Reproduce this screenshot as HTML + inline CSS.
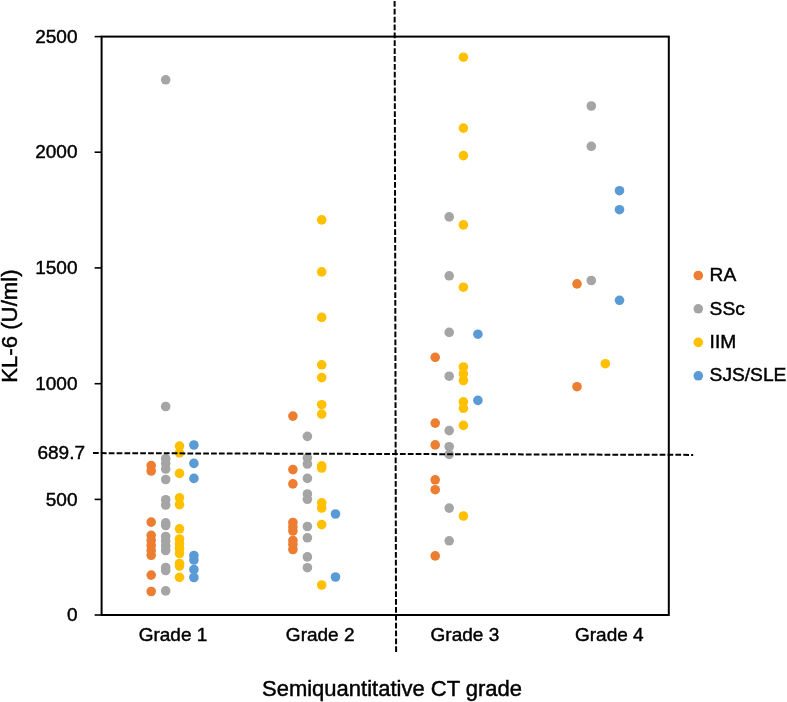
<!DOCTYPE html>
<html><head><meta charset="utf-8"><style>
html,body{margin:0;padding:0;background:#fff;width:787px;height:702px;overflow:hidden}
svg{display:block;will-change:transform}
text{font-family:"Liberation Sans",sans-serif;fill:#000;stroke:#000;stroke-width:0.45px}
</style></head><body>
<svg width="787" height="702" viewBox="0 0 787 702">
<rect x="0" y="0" width="787" height="702" fill="#fff"/>
<!-- frame -->
<rect x="101.6" y="36.6" width="567.2" height="578.4" fill="none" stroke="#000" stroke-width="2"/>
<!-- y ticks -->
<g stroke="#000" stroke-width="1.6">
<line x1="94.6" y1="36.6" x2="101.6" y2="36.6"/>
<line x1="94.6" y1="152.2" x2="101.6" y2="152.2"/>
<line x1="94.6" y1="267.9" x2="101.6" y2="267.9"/>
<line x1="94.6" y1="383.7" x2="101.6" y2="383.7"/>
<line x1="94.6" y1="499.4" x2="101.6" y2="499.4"/>
<line x1="94.6" y1="615" x2="101.6" y2="615"/>
</g>
<!-- y labels -->
<g font-size="19" text-anchor="end">
<text x="77.5" y="42.8">2500</text>
<text x="77.5" y="158.3">2000</text>
<text x="77.5" y="274">1500</text>
<text x="77.5" y="389.8">1000</text>
<text x="77.5" y="505.5">500</text>
<text x="77.5" y="621.1">0</text>
<text x="85" y="459">689.7</text>
</g>
<!-- x labels -->
<g font-size="19" text-anchor="middle">
<text x="173" y="640.6">Grade 1</text>
<text x="320.2" y="640.6">Grade 2</text>
<text x="464.9" y="640.6">Grade 3</text>
<text x="609.3" y="640.6">Grade 4</text>
</g>
<!-- axis titles -->
<text x="262" y="695.6" font-size="22">Semiquantitative CT grade</text>
<text transform="translate(16.8,382.8) rotate(-90)" font-size="22.2">KL-6 (U/ml)</text>
<!-- legend -->
<g font-size="19.2">
<circle cx="698.3" cy="275.5" r="4.8" fill="#ED7D31"/>
<circle cx="698.3" cy="308.8" r="4.8" fill="#A5A5A5"/>
<circle cx="698.3" cy="342.4" r="4.8" fill="#FFC000"/>
<circle cx="698.3" cy="375.8" r="4.8" fill="#5B9BD5"/>
<text x="709.6" y="281.3">RA</text>
<text x="709.6" y="314.8">SSc</text>
<text x="709.6" y="348.3">IIM</text>
<text x="709.6" y="381.3">SJS/SLE</text>
</g>
<!-- DOTS -->
<g id="dots">
<circle cx="151.2" cy="465.6" r="4.8" fill="#ED7D31"/>
<circle cx="151.2" cy="471.0" r="4.8" fill="#ED7D31"/>
<circle cx="151.2" cy="522.1" r="4.8" fill="#ED7D31"/>
<circle cx="151.2" cy="535.3" r="4.8" fill="#ED7D31"/>
<circle cx="151.2" cy="540.5" r="4.8" fill="#ED7D31"/>
<circle cx="151.2" cy="545.5" r="4.8" fill="#ED7D31"/>
<circle cx="151.2" cy="550.5" r="4.8" fill="#ED7D31"/>
<circle cx="151.2" cy="555.3" r="4.8" fill="#ED7D31"/>
<circle cx="151.2" cy="575.1" r="4.8" fill="#ED7D31"/>
<circle cx="151.2" cy="591.5" r="4.8" fill="#ED7D31"/>
<circle cx="165.7" cy="79.8" r="4.8" fill="#A5A5A5"/>
<circle cx="165.7" cy="406.5" r="4.8" fill="#A5A5A5"/>
<circle cx="165.7" cy="458.7" r="4.8" fill="#A5A5A5"/>
<circle cx="165.7" cy="463.5" r="4.8" fill="#A5A5A5"/>
<circle cx="165.7" cy="469.0" r="4.8" fill="#A5A5A5"/>
<circle cx="165.7" cy="479.5" r="4.8" fill="#A5A5A5"/>
<circle cx="165.7" cy="499.7" r="4.8" fill="#A5A5A5"/>
<circle cx="165.7" cy="505.0" r="4.8" fill="#A5A5A5"/>
<circle cx="165.7" cy="522.8" r="4.8" fill="#A5A5A5"/>
<circle cx="165.7" cy="525.5" r="4.8" fill="#A5A5A5"/>
<circle cx="165.7" cy="536.5" r="4.8" fill="#A5A5A5"/>
<circle cx="165.7" cy="541.0" r="4.8" fill="#A5A5A5"/>
<circle cx="165.7" cy="546.0" r="4.8" fill="#A5A5A5"/>
<circle cx="165.7" cy="550.5" r="4.8" fill="#A5A5A5"/>
<circle cx="165.7" cy="567.5" r="4.8" fill="#A5A5A5"/>
<circle cx="165.7" cy="570.5" r="4.8" fill="#A5A5A5"/>
<circle cx="165.7" cy="590.9" r="4.8" fill="#A5A5A5"/>
<circle cx="179.5" cy="446.1" r="4.8" fill="#FFC000"/>
<circle cx="179.5" cy="452.9" r="4.8" fill="#FFC000"/>
<circle cx="179.5" cy="473.4" r="4.8" fill="#FFC000"/>
<circle cx="179.5" cy="497.8" r="4.8" fill="#FFC000"/>
<circle cx="179.5" cy="504.6" r="4.8" fill="#FFC000"/>
<circle cx="179.5" cy="528.8" r="4.8" fill="#FFC000"/>
<circle cx="179.5" cy="539.0" r="4.8" fill="#FFC000"/>
<circle cx="179.5" cy="544.0" r="4.8" fill="#FFC000"/>
<circle cx="179.5" cy="548.5" r="4.8" fill="#FFC000"/>
<circle cx="179.5" cy="553.5" r="4.8" fill="#FFC000"/>
<circle cx="179.5" cy="563.5" r="4.8" fill="#FFC000"/>
<circle cx="179.5" cy="566.0" r="4.8" fill="#FFC000"/>
<circle cx="179.5" cy="577.3" r="4.8" fill="#FFC000"/>
<circle cx="193.9" cy="445.0" r="4.8" fill="#5B9BD5"/>
<circle cx="193.9" cy="463.4" r="4.8" fill="#5B9BD5"/>
<circle cx="193.9" cy="478.4" r="4.8" fill="#5B9BD5"/>
<circle cx="193.9" cy="555.5" r="4.8" fill="#5B9BD5"/>
<circle cx="193.9" cy="560.0" r="4.8" fill="#5B9BD5"/>
<circle cx="193.9" cy="569.5" r="4.8" fill="#5B9BD5"/>
<circle cx="193.9" cy="577.5" r="4.8" fill="#5B9BD5"/>
<circle cx="292.9" cy="416.1" r="4.8" fill="#ED7D31"/>
<circle cx="292.9" cy="469.6" r="4.8" fill="#ED7D31"/>
<circle cx="292.9" cy="483.9" r="4.8" fill="#ED7D31"/>
<circle cx="292.9" cy="522.5" r="4.8" fill="#ED7D31"/>
<circle cx="292.9" cy="527.0" r="4.8" fill="#ED7D31"/>
<circle cx="292.9" cy="531.0" r="4.8" fill="#ED7D31"/>
<circle cx="292.9" cy="540.5" r="4.8" fill="#ED7D31"/>
<circle cx="292.9" cy="544.5" r="4.8" fill="#ED7D31"/>
<circle cx="292.9" cy="549.5" r="4.8" fill="#ED7D31"/>
<circle cx="307.4" cy="436.4" r="4.8" fill="#A5A5A5"/>
<circle cx="307.4" cy="457.8" r="4.8" fill="#A5A5A5"/>
<circle cx="307.4" cy="464.0" r="4.8" fill="#A5A5A5"/>
<circle cx="307.4" cy="478.4" r="4.8" fill="#A5A5A5"/>
<circle cx="307.4" cy="494.0" r="4.8" fill="#A5A5A5"/>
<circle cx="307.4" cy="499.3" r="4.8" fill="#A5A5A5"/>
<circle cx="307.4" cy="526.5" r="4.8" fill="#A5A5A5"/>
<circle cx="307.4" cy="537.8" r="4.8" fill="#A5A5A5"/>
<circle cx="307.4" cy="556.9" r="4.8" fill="#A5A5A5"/>
<circle cx="307.4" cy="567.7" r="4.8" fill="#A5A5A5"/>
<circle cx="321.7" cy="219.9" r="4.8" fill="#FFC000"/>
<circle cx="321.7" cy="271.9" r="4.8" fill="#FFC000"/>
<circle cx="321.7" cy="317.4" r="4.8" fill="#FFC000"/>
<circle cx="321.7" cy="364.8" r="4.8" fill="#FFC000"/>
<circle cx="321.7" cy="377.6" r="4.8" fill="#FFC000"/>
<circle cx="321.7" cy="404.7" r="4.8" fill="#FFC000"/>
<circle cx="321.7" cy="414.1" r="4.8" fill="#FFC000"/>
<circle cx="321.7" cy="465.8" r="4.8" fill="#FFC000"/>
<circle cx="321.7" cy="468.0" r="4.8" fill="#FFC000"/>
<circle cx="321.7" cy="502.8" r="4.8" fill="#FFC000"/>
<circle cx="321.7" cy="508.0" r="4.8" fill="#FFC000"/>
<circle cx="321.7" cy="524.6" r="4.8" fill="#FFC000"/>
<circle cx="321.7" cy="585.0" r="4.8" fill="#FFC000"/>
<circle cx="335.5" cy="514.0" r="4.8" fill="#5B9BD5"/>
<circle cx="335.5" cy="577.0" r="4.8" fill="#5B9BD5"/>
<circle cx="435.2" cy="357.3" r="4.8" fill="#ED7D31"/>
<circle cx="435.2" cy="423.1" r="4.8" fill="#ED7D31"/>
<circle cx="435.2" cy="444.9" r="4.8" fill="#ED7D31"/>
<circle cx="435.2" cy="479.8" r="4.8" fill="#ED7D31"/>
<circle cx="435.2" cy="489.7" r="4.8" fill="#ED7D31"/>
<circle cx="435.2" cy="555.9" r="4.8" fill="#ED7D31"/>
<circle cx="449.2" cy="216.9" r="4.8" fill="#A5A5A5"/>
<circle cx="449.2" cy="275.8" r="4.8" fill="#A5A5A5"/>
<circle cx="449.2" cy="332.4" r="4.8" fill="#A5A5A5"/>
<circle cx="449.2" cy="376.2" r="4.8" fill="#A5A5A5"/>
<circle cx="449.2" cy="430.6" r="4.8" fill="#A5A5A5"/>
<circle cx="449.2" cy="446.7" r="4.8" fill="#A5A5A5"/>
<circle cx="449.2" cy="454.4" r="4.8" fill="#A5A5A5"/>
<circle cx="449.2" cy="508.1" r="4.8" fill="#A5A5A5"/>
<circle cx="449.2" cy="540.8" r="4.8" fill="#A5A5A5"/>
<circle cx="463.4" cy="57.2" r="4.8" fill="#FFC000"/>
<circle cx="463.4" cy="128.1" r="4.8" fill="#FFC000"/>
<circle cx="463.4" cy="155.6" r="4.8" fill="#FFC000"/>
<circle cx="463.4" cy="224.9" r="4.8" fill="#FFC000"/>
<circle cx="463.4" cy="287.2" r="4.8" fill="#FFC000"/>
<circle cx="463.4" cy="367.0" r="4.8" fill="#FFC000"/>
<circle cx="463.4" cy="373.8" r="4.8" fill="#FFC000"/>
<circle cx="463.4" cy="380.5" r="4.8" fill="#FFC000"/>
<circle cx="463.4" cy="401.8" r="4.8" fill="#FFC000"/>
<circle cx="463.4" cy="408.3" r="4.8" fill="#FFC000"/>
<circle cx="463.4" cy="425.4" r="4.8" fill="#FFC000"/>
<circle cx="463.4" cy="516.0" r="4.8" fill="#FFC000"/>
<circle cx="477.9" cy="334.2" r="4.8" fill="#5B9BD5"/>
<circle cx="477.9" cy="400.4" r="4.8" fill="#5B9BD5"/>
<circle cx="577.0" cy="283.9" r="4.8" fill="#ED7D31"/>
<circle cx="577.0" cy="386.7" r="4.8" fill="#ED7D31"/>
<circle cx="591.3" cy="106.0" r="4.8" fill="#A5A5A5"/>
<circle cx="591.3" cy="146.3" r="4.8" fill="#A5A5A5"/>
<circle cx="591.3" cy="280.5" r="4.8" fill="#A5A5A5"/>
<circle cx="605.3" cy="363.7" r="4.8" fill="#FFC000"/>
<circle cx="619.5" cy="190.7" r="4.8" fill="#5B9BD5"/>
<circle cx="619.5" cy="209.7" r="4.8" fill="#5B9BD5"/>
<circle cx="619.5" cy="300.3" r="4.8" fill="#5B9BD5"/>
</g>
<!-- dashed lines -->
<line x1="394.6" y1="1" x2="396.1" y2="652" stroke="#000" stroke-width="2" stroke-dasharray="5.75 2.12"/>
<line x1="93" y1="453.1" x2="693.2" y2="454.9" stroke="#000" stroke-width="2" stroke-dasharray="5.75 2.12"/>
</svg>
</body></html>
